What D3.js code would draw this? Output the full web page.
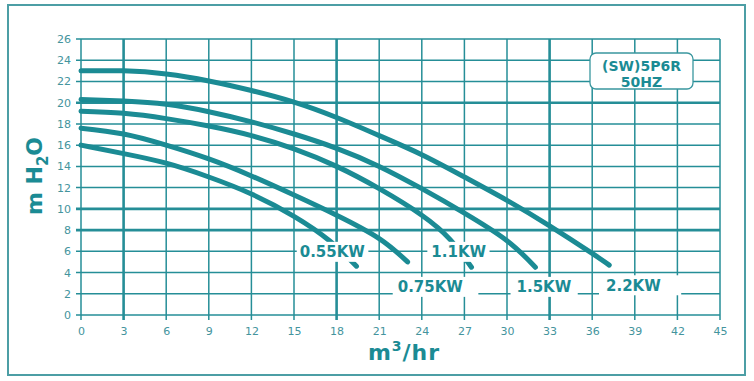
<!DOCTYPE html>
<html>
<head>
<meta charset="utf-8">
<script src="https://cdn.jsdelivr.net/npm/d3@7"></script>
<style>
  html, body { margin: 0; padding: 0; background: #fff; }
  svg { display: block; font-family: "DejaVu Sans", Verdana, sans-serif; }
</style>
</head>
<body>
<svg id="chart"></svg>
<script>
// pump curves, flow in m3/hr, head in m H2O
const flow055 = [0, 3, 6, 9, 12, 15, 17.5, 19.4];
const head055 = [16.0, 15.2, 14.3, 13.0, 11.4, 9.3, 7.0, 4.6];

const flow075 = [0, 3, 6, 9, 12, 15, 18, 21, 23];
const head075 = [17.6, 17.05, 16.0, 14.7, 13.1, 11.3, 9.4, 7.2, 5.0];

const flow11 = [0, 3, 6, 9, 12, 15, 18, 21, 24, 26, 27.5];
const head11 = [19.2, 19.0, 18.5, 17.8, 16.9, 15.65, 14.0, 11.9, 9.4, 7.1, 4.5];

const flow15 = [0, 3, 6, 9, 12, 15, 18, 21, 24, 27, 30, 32];
const head15 = [20.3, 20.15, 19.85, 19.15, 18.2, 17.05, 15.7, 14.0, 11.9, 9.6, 7.0, 4.5];

const flow22 = [0, 3, 6, 9, 12, 15, 18, 21, 24, 27, 30, 33, 36, 37.2];
const head22 = [23.0, 23.0, 22.7, 22.05, 21.15, 20.05, 18.6, 16.9, 15.1, 13.0, 10.8, 8.4, 5.8, 4.7];

const powerLabels = ['0.55KW', '0.75KW', '1.1KW', '1.5KW', '2.2KW'];
const xTicks = d3.range(0, 46, 3);
const yTicks = d3.range(0, 27, 2);
const modelText = ['(SW)5P6R', '50HZ'];

const width = 754;
const height = 381;
const teal = '#1b8b94';
const gridColor = '#258e97';
const tickText = '#44949d';

const svg = d3.select('#chart').attr('width', width).attr('height', height);

svg.append('rect').attr('width', width).attr('height', height).attr('fill', '#fff');

// outer frame
svg.append('rect')
  .attr('x', 8).attr('y', 5)
  .attr('width', 737).attr('height', 370)
  .attr('fill', 'none')
  .attr('stroke', '#4c9ea5')
  .attr('stroke-width', 2);

const x = d3.scaleLinear().domain([0, 45]).range([81, 720]);
const y = d3.scaleLinear().domain([0, 26]).range([315, 39]);

const thickX = [3, 18, 33];
const thickY = [8, 10, 20];

const grid = svg.append('g');
grid.selectAll('line.v')
  .data(xTicks)
  .join('line')
  .attr('class', 'v')
  .attr('x1', d => x(d)).attr('x2', d => x(d))
  .attr('y1', y(26)).attr('y2', y(0) + 5)
  .attr('stroke', gridColor)
  .attr('stroke-width', d => thickX.includes(d) ? 2.6 : 1.5);

grid.selectAll('line.h')
  .data(yTicks)
  .join('line')
  .attr('class', 'h')
  .attr('x1', x(0) - 5).attr('x2', x(45))
  .attr('y1', d => y(d)).attr('y2', d => y(d))
  .attr('stroke', gridColor)
  .attr('stroke-width', d => thickY.includes(d) ? 2.6 : 1.5);

// tick labels
const xAxis = svg.append('g')
  .attr('transform', `translate(0,${y(0)})`)
  .call(d3.axisBottom(x).tickValues(xTicks).tickSize(0).tickPadding(12));
const yAxis = svg.append('g')
  .attr('transform', `translate(${x(0)},0)`)
  .call(d3.axisLeft(y).tickValues(yTicks).tickSize(0).tickPadding(10));
[xAxis, yAxis].forEach(a => {
  a.select('.domain').remove();
  a.selectAll('text')
    .attr('fill', tickText)
    .style('font-size', '11px')
    .style('font-family', '"DejaVu Sans", Verdana, sans-serif');
});

// curves
const series = [
  [flow055, head055],
  [flow075, head075],
  [flow11, head11],
  [flow15, head15],
  [flow22, head22]
];

const line = d3.line()
  .x(d => x(d[0]))
  .y(d => y(d[1]))
  .curve(d3.curveNatural);

svg.append('g')
  .selectAll('path')
  .data(series)
  .join('path')
  .attr('d', s => line(s[0].map((f, i) => [f, s[1][i]])))
  .attr('fill', 'none')
  .attr('stroke', teal)
  .attr('stroke-width', 5)
  .attr('stroke-linecap', 'round');

// power labels, placed in data units, each on a white strip
const labelPos = [[17.7, 5.95], [24.6, 2.65], [26.6, 5.95], [32.6, 2.65], [38.9, 2.8]];
const labelPad = [[3, 3], [5, 15], [4, 3], [6, 6], [7, 20]];

const labels = svg.append('g');
powerLabels.forEach((t, i) => {
  const cx = x(labelPos[i][0]);
  const cy = y(labelPos[i][1]);
  const g = labels.append('g');
  const txt = g.append('text')
    .attr('x', cx).attr('y', cy)
    .attr('dy', '0.36em')
    .attr('text-anchor', 'middle')
    .attr('fill', teal)
    .style('font-size', '15px')
    .style('font-weight', 'bold')
    .text(t);
  const bb = txt.node().getBBox();
  g.insert('rect', 'text')
    .attr('x', bb.x - labelPad[i][0])
    .attr('y', cy - 10)
    .attr('width', bb.width + labelPad[i][0] + labelPad[i][1])
    .attr('height', 20)
    .attr('fill', '#fff');
});

// model box
svg.append('rect')
  .attr('x', 590).attr('y', 53)
  .attr('width', 103).attr('height', 36)
  .attr('rx', 6)
  .attr('fill', '#fff')
  .attr('stroke', '#3a979f')
  .attr('stroke-width', 1.3);
svg.append('g')
  .selectAll('text')
  .data(modelText)
  .join('text')
  .attr('x', 641.5)
  .attr('y', (d, i) => 70.5 + i * 16.5)
  .attr('text-anchor', 'middle')
  .attr('fill', teal)
  .style('font-size', '14px')
  .style('font-weight', 'bold')
  .text(d => d);

// axis titles
const xt = svg.append('text')
  .attr('x', 404).attr('y', 360)
  .attr('text-anchor', 'middle')
  .attr('fill', teal)
  .style('font-size', '22px')
  .style('font-weight', 'bold')
  .style('letter-spacing', '1px');
xt.append('tspan').text('m');
xt.append('tspan').attr('dy', -9).style('font-size', '14px').text('3');
xt.append('tspan').attr('dy', 9).text('/hr');

const yt = svg.append('text')
  .attr('transform', 'translate(42,176) rotate(-90)')
  .attr('text-anchor', 'middle')
  .attr('fill', teal)
  .style('font-size', '22px')
  .style('font-weight', 'bold');
yt.append('tspan').text('m H');
yt.append('tspan').attr('dy', 6).style('font-size', '15px').text('2');
yt.append('tspan').attr('dy', -6).text('O');
</script>
</body>
</html>
